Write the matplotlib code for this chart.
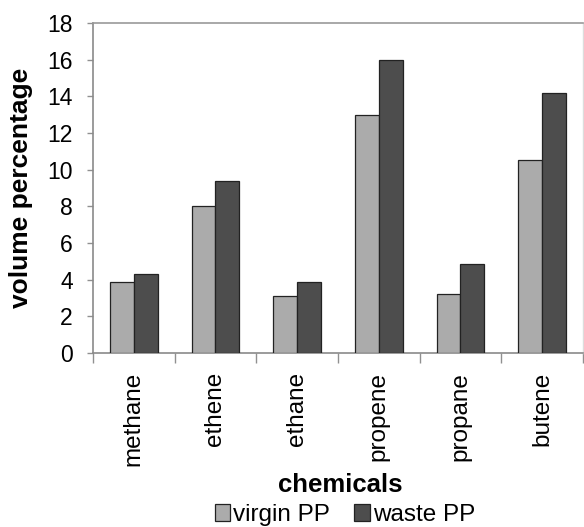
import matplotlib
matplotlib.use("Agg")
import matplotlib.pyplot as plt
import numpy as np
from matplotlib.patches import Patch

categories = ["methane", "ethene", "ethane", "propene", "propane", "butene"]
virgin_pp = [3.9, 8.0, 3.1, 13.0, 3.2, 10.55]
waste_pp = [4.3, 9.4, 3.85, 16.0, 4.85, 14.2]
series_names = ["virgin PP", "waste PP"]
y_ticks = list(range(0, 19, 2))

plt.rcParams['font.family'] = ['Liberation Sans', 'DejaVu Sans']

W, H = 584, 527
fig = plt.figure(figsize=(W / 100, H / 100), dpi=100)
ax = fig.add_axes([93 / W, 1 - 353 / H, 490 / W, (353 - 23) / H])

x = np.arange(len(categories))
bw = 0.29
c_virgin = "#ababab"
c_waste = "#4d4d4d"
ax.bar(x - bw / 2, virgin_pp, bw, color=c_virgin, edgecolor="#222222", linewidth=0.9, zorder=3)
ax.bar(x + bw / 2, waste_pp, bw, color=c_waste, edgecolor="#222222", linewidth=0.9, zorder=3)

ax.set_xlim(-0.5, len(categories) - 0.5)
ax.set_ylim(0, 18)
ax.set_yticks(y_ticks)
ax.set_yticklabels([str(v) for v in y_ticks], fontsize=16.5)
ax.set_xticks(x)
ax.set_xticklabels(categories, rotation=90, fontsize=17.5)
ax.set_xticks(np.arange(-0.5, len(categories), 1.0), minor=True)
ax.tick_params(axis='x', which='major', length=0, pad=13.5)
ax.tick_params(axis='x', which='minor', length=7, width=1, color="#909090", direction='out')
ax.tick_params(axis='y', length=4, width=1, color="#909090", direction='out', pad=10.5)

for s in ['left', 'bottom']:
    ax.spines[s].set_color("#8a8a8a")
    ax.spines[s].set_linewidth(1.2)
ax.spines['top'].set_color("#9a9a9a")
ax.spines['top'].set_linewidth(1.2)
ax.spines['right'].set_color("#dddddd")
ax.spines['right'].set_linewidth(1.0)

fig.text(21 / W, 1 - 188 / H, "volume percentage", rotation=90, fontsize=19,
         fontweight='bold', ha='center', va='center')
fig.text(340 / W, 1 - 485 / H, "chemicals", fontsize=18.5, fontweight='bold',
         ha='center', va='center')

handles = [Patch(facecolor=c_virgin, edgecolor="#222222", linewidth=0.9),
           Patch(facecolor=c_waste, edgecolor="#222222", linewidth=0.9)]
fig.legend(handles, series_names, loc='center', bbox_to_anchor=(345 / W, 1 - 515 / H),
           ncol=2, frameon=False, fontsize=17.5, handlelength=0.65, handleheight=0.65,
           handletextpad=0.12, columnspacing=1.0, borderpad=0, borderaxespad=0)

fig.savefig("out.png", dpi=100)
